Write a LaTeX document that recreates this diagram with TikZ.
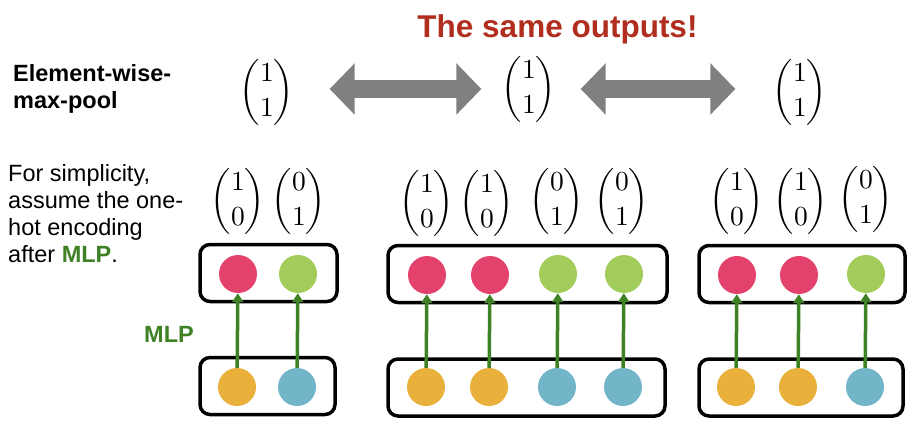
\documentclass[tikz,border=0pt]{standalone}
\usepackage{amsmath}
\usepackage[no-math]{fontspec}
\newfontfamily\arial{Liberation Sans}
\usepackage{xcolor}
\usetikzlibrary{arrows.meta}

\definecolor{titlered}{HTML}{B12E1F}
\definecolor{mlpgreen}{HTML}{3F8226}
\definecolor{dotred}{HTML}{E2426B}
\definecolor{dotgreen}{HTML}{A2CC5C}
\definecolor{dotorange}{HTML}{E9B13C}
\definecolor{dotblue}{HTML}{72B5C9}
\definecolor{arrowgray}{HTML}{808080}

\newcommand{\vect}[2]{{\renewcommand{\arraystretch}{1.08}$\begin{pmatrix}#1\\#2\end{pmatrix}$}}

\begin{document}
\begin{tikzpicture}[x=1pt,y=-1pt,
  dot/.style={circle,minimum size=38pt,inner sep=0pt},
  setbox/.style={rectangle,draw,line width=3.5pt,rounded corners=10pt,minimum height=57pt},
  vec/.style={inner sep=0pt,scale=2.75,transform shape},
  mlparrow/.style={draw=mlpgreen,line width=3.5pt,-{Triangle[length=9pt,width=11pt]}},
  samearrow/.style={draw=arrowgray,line width=17pt,{Triangle[length=25pt,width=50pt]}-{Triangle[length=25pt,width=50pt]}},
  txt/.style={font=\arial\fontsize{23.5}{27}\selectfont,inner sep=0pt,align=left}]
\useasboundingbox (0,0) rectangle (924,428);

% title and left labels
\node at (557.5,38) [anchor=base,inner sep=0pt,text=titlered,font=\arial\bfseries\fontsize{31.5}{36}\selectfont] (title) {The same outputs!};
\node at (13,108) [txt,anchor=base west,font=\arial\bfseries\fontsize{23.5}{27}\selectfont] (pool) {Element-wise-\\max-pool};
\node at (8,262) [txt,anchor=base west] (note) {For simplicity,\\assume the one-\\hot encoding\\after {\bfseries\color{mlpgreen}MLP}.};
\node at (169,334) [txt,text=mlpgreen,font=\arial\bfseries\fontsize{23.5}{27}\selectfont] (mlp) {MLP};

% pooled outputs
\node at (267,92) [vec] (o1) {\vect{1}{1}};
\node at (529,89) [vec] (o2) {\vect{1}{1}};
\node at (800,92) [vec] (o3) {\vect{1}{1}};
\draw[samearrow,shorten <=35pt,shorten >=20pt] (o1.east |- o2) -- (o2.west);
\draw[samearrow,shorten <=24pt,shorten >=37pt] (o2.east) -- (o2 -| o3.west);

% boxes
\node at (268.5,273) [setbox,minimum width=137pt] (top1) {};
\node at (267.5,386) [setbox,minimum width=135pt] (bot1) {};
\node at (527.5,274) [setbox,minimum width=279pt] (top2) {};
\node at (526.5,387.5) [setbox,minimum width=277pt] (bot2) {};
\node at (802,274) [setbox,minimum width=206pt] (top3) {};
\node at (801,387.5) [setbox,minimum width=204pt] (bot3) {};

% set 1
\node at (238,274) [dot,fill=dotred] (t11) {};
\node at (298,274) [dot,fill=dotgreen] (t12) {};
\node at (237,387) [dot,fill=dotorange] (b11) {};
\node at (297,387) [dot,fill=dotblue] (b12) {};
\node at (238,201) [vec] (v11) {\vect{1}{0}};
\node at (299,201) [vec] (v12) {\vect{0}{1}};

% set 2
\node at (427,275) [dot,fill=dotred] (t21) {};
\node at (490,275) [dot,fill=dotred] (t22) {};
\node at (558,274) [dot,fill=dotgreen] (t23) {};
\node at (624,274) [dot,fill=dotgreen] (t24) {};
\node at (426,387) [dot,fill=dotorange] (b21) {};
\node at (489,387) [dot,fill=dotorange] (b22) {};
\node at (557,387) [dot,fill=dotblue] (b23) {};
\node at (623,387) [dot,fill=dotblue] (b24) {};
\node at (427,203) [vec] (v21) {\vect{1}{0}};
\node at (487,203) [vec] (v22) {\vect{1}{0}};
\node at (557,201) [vec] (v23) {\vect{0}{1}};
\node at (622,201) [vec] (v24) {\vect{0}{1}};

% set 3
\node at (737,275) [dot,fill=dotred] (t31) {};
\node at (799,275) [dot,fill=dotred] (t32) {};
\node at (866,274) [dot,fill=dotgreen] (t33) {};
\node at (736,387) [dot,fill=dotorange] (b31) {};
\node at (798,387) [dot,fill=dotorange] (b32) {};
\node at (865,387) [dot,fill=dotblue] (b33) {};
\node at (737,201) [vec] (v31) {\vect{1}{0}};
\node at (801,201) [vec] (v32) {\vect{1}{0}};
\node at (866,199) [vec] (v33) {\vect{0}{1}};

% MLP arrows
\foreach \s/\t in {b11/t11,b12/t12,b21/t21,b22/t22,b23/t23,b24/t24,b31/t31,b32/t32,b33/t33}
  \draw[mlparrow] (\s) -- (\t);
\end{tikzpicture}
\end{document}
